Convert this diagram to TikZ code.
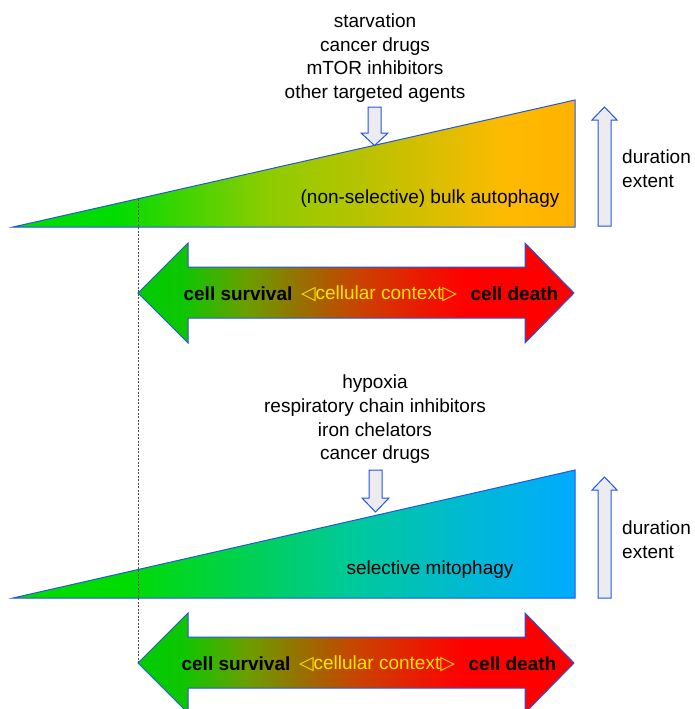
\documentclass[tikz,border=0pt]{standalone}
\usepackage{fontspec}
\setmainfont{Liberation Sans}
\newfontfamily\symfont{DejaVu Sans}
\definecolor{edgeblue}{RGB}{35,85,225}
\definecolor{arrowfill}{RGB}{236,236,240}
\definecolor{ctxyellow}{RGB}{255,230,0}
\pgfdeclarehorizontalshading{topshade}{100bp}{
  rgb(0bp)=(0,0.86,0);
  rgb(25bp)=(0,0.86,0);
  rgb(34bp)=(0,0.86,0);
  rgb(47.5bp)=(0.55,0.80,0);
  rgb(60bp)=(0.80,0.75,0);
  rgb(69bp)=(1,0.73,0);
  rgb(75bp)=(1,0.70,0);
  rgb(100bp)=(1,0.70,0)}
\pgfdeclarehorizontalshading{botshade}{100bp}{
  rgb(0bp)=(0,0.86,0);
  rgb(25bp)=(0,0.86,0);
  rgb(35bp)=(0,0.86,0);
  rgb(45bp)=(0,0.82,0.30);
  rgb(55bp)=(0,0.79,0.60);
  rgb(65bp)=(0,0.73,0.82);
  rgb(75bp)=(0,0.67,1);
  rgb(100bp)=(0,0.67,1)}
\pgfdeclarehorizontalshading{arrowshade}{100bp}{
  rgb(0bp)=(0,0.80,0);
  rgb(25bp)=(0,0.80,0);
  rgb(30bp)=(0.05,0.78,0);
  rgb(37.5bp)=(0.42,0.62,0);
  rgb(44bp)=(0.60,0.43,0);
  rgb(50bp)=(0.78,0.27,0);
  rgb(57.5bp)=(0.92,0.10,0);
  rgb(62.5bp)=(1,0,0);
  rgb(75bp)=(1,0,0);
  rgb(100bp)=(1,0,0)}
\tikzset{
  edge/.style={draw=edgeblue,line width=1pt,line join=miter},
  blockarrow/.style={edge,fill=arrowfill},
  label/.style={font=\fontsize{19}{23.7}\selectfont,inner sep=0pt,align=center},
  boldlabel/.style={font=\fontsize{19}{23}\selectfont\bfseries,inner sep=0pt},
  ctx/.style={font=\fontsize{19}{23}\selectfont,text=ctxyellow,inner sep=0pt},
  guide/.style={draw=black!70,dashed,line width=0.5pt,dash pattern=on 2pt off 1.5pt}
}
\begin{document}
\begin{tikzpicture}[x=1pt,y=-1pt]
\useasboundingbox (0,0) rectangle (694,709);
\begin{scope}
\clip (0,0) rectangle (694,709);
% ---------- top panel ----------
\shade[shading=topshade] (13,227) -- (575,100) -- (575,227) -- cycle;
\draw[edge] (13,227) -- (575,100) -- (575,227) -- cycle;
\draw[blockarrow] (368,107) -- (381,107) -- (381,133) -- (388,133) -- (374.5,145.5) -- (361,133) -- (368,133) -- cycle;
\draw[blockarrow] (598,226) -- (598,120) -- (592,120) -- (604.5,107) -- (617,120) -- (611,120) -- (611,226) -- cycle;
\node[label] (topcauses) at (375,58) {starvation\\cancer drugs\\mTOR inhibitors\\other targeted agents};
\node[label] (bulk) at (430,198.5) {(non-selective) bulk autophagy};
\node[label,align=left,anchor=west] (dur1) at (622,168.5) {duration\\extent};
% top double arrow
\shade[shading=arrowshade] (138,293) -- (188,243) -- (188,267) -- (525,267) -- (525,243) -- (574,293) -- (525,343) -- (525,318) -- (188,318) -- (188,343) -- cycle;
\draw[edge] (138,293) -- (188,243) -- (188,267) -- (525,267) -- (525,243) -- (574,293) -- (525,343) -- (525,318) -- (188,318) -- (188,343) -- cycle;
\node[boldlabel] (surv1) at (238,294) {cell survival};
\node[ctx] (ctx1) at (379,294) {{\symfont ◁}cellular context{\symfont ▷}};
\node[boldlabel] (death1) at (514.5,294) {cell death};
% ---------- bottom panel ----------
\shade[shading=botshade] (13,598) -- (575,470) -- (575,598) -- cycle;
\draw[edge] (13,598) -- (575,470) -- (575,598) -- cycle;
\draw[blockarrow] (369,470) -- (382,470) -- (382,498) -- (389,498) -- (375.5,512) -- (362,498) -- (369,498) -- cycle;
\draw[blockarrow] (598,598) -- (598,490) -- (592,490) -- (604.5,477) -- (617,490) -- (611,490) -- (611,598) -- cycle;
\node[label] (botcauses) at (375,419.5) {hypoxia\\respiratory chain inhibitors\\iron chelators\\cancer drugs};
\node[label] (mito) at (430,570) {selective mitophagy};
\node[label,align=left,anchor=west] (dur2) at (622,539.5) {duration\\extent};
% bottom double arrow
\shade[shading=arrowshade] (138,663) -- (188,613) -- (188,637) -- (525,637) -- (525,613) -- (574,663) -- (525,713) -- (525,688) -- (188,688) -- (188,713) -- cycle;
\draw[edge] (138,663) -- (188,613) -- (188,637) -- (525,637) -- (525,613) -- (574,663) -- (525,713) -- (525,688) -- (188,688) -- (188,713) -- cycle;
\node[boldlabel] (surv2) at (236,664) {cell survival};
\node[ctx] (ctx2) at (377,664) {{\symfont ◁}cellular context{\symfont ▷}};
\node[boldlabel] (death2) at (512.5,664) {cell death};
% dashed guide
\coordinate (gtop) at (138,199);
\coordinate (gbot) at (138,663);
\draw[guide] (gtop) -- (gbot);
\end{scope}
\end{tikzpicture}
\end{document}
